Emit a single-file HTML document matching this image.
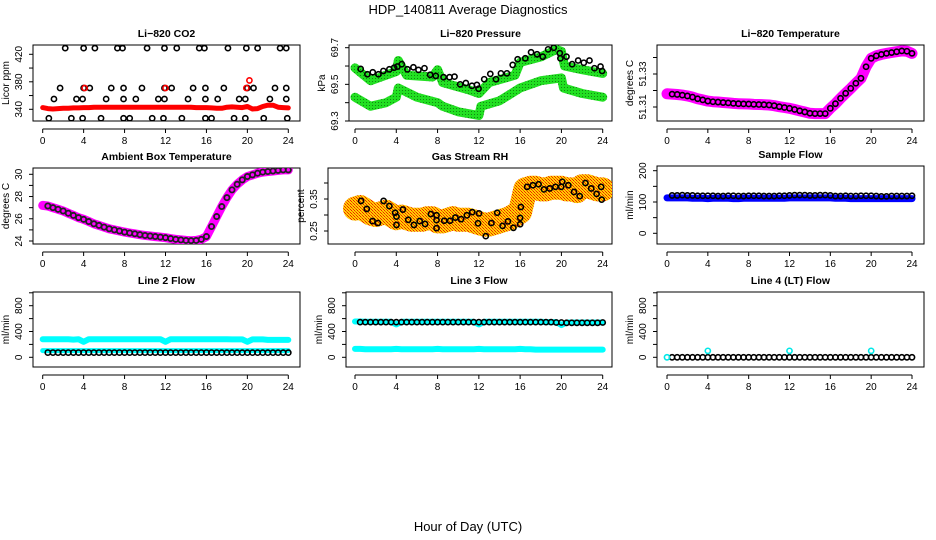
<!DOCTYPE html>
<html><head><meta charset="utf-8">
<style>
html,body{margin:0;padding:0;background:#fff;}
svg{display:block;font-family:"Liberation Sans",Helvetica,sans-serif;}
</style></head>
<body>
<svg id="chart" width="936" height="540" viewBox="0 0 936 540" xmlns="http://www.w3.org/2000/svg">
<defs>
<pattern id="rhpat" width="3" height="3" patternUnits="userSpaceOnUse">
<rect width="3" height="3" fill="#ffd000"/><rect width="1" height="1" fill="#f02000"/><rect x="1" y="1" width="1" height="1" fill="#f06000"/><rect x="2" y="2" width="1" height="1" fill="#f02000"/>
</pattern>
<pattern id="prpat" width="3" height="3" patternUnits="userSpaceOnUse">
<rect width="3" height="3" fill="#22e022"/><rect width="1" height="1" fill="#118811"/>
</pattern>
</defs>
<text x="468" y="14" text-anchor="middle" font-size="13">HDP_140811  Average Diagnostics</text>
<text x="468" y="531" text-anchor="middle" font-size="13">Hour of Day (UTC)</text>
</svg>
<script>
// ---- shared hours (0.5 h steps) ----
const H = [0,0.5,1,1.5,2,2.5,3,3.5,4,4.5,5,5.5,6,6.5,7,7.5,8,8.5,9,9.5,10,10.5,11,11.5,12,12.5,13,13.5,14,14.5,15,15.5,16,16.5,17,17.5,18,18.5,19,19.5,20,20.5,21,21.5,22,22.5,23,23.5,24];
const xTicks = [0,4,8,12,16,20,24];

// ---- CO2 ----
const co2Red = [342.5,341,340.5,341,341.5,341.5,342,342,342.5,342.5,343,343,343,343,343,343,343,343,343,343,343,343,343,343,343,343,343,343,343,343,342.5,342.5,342.5,342,341.5,341.5,343,343.5,343,342.5,344,340.5,341,344,346,346,343,342.5,342];
const co2T = [2.2,4.0,5.1,7.3,7.8,10.2,11.9,13.1,15.3,15.8,18.1,19.9,21.0,23.2,23.8,
 1.7,4.0,4.6,6.7,7.9,9.7,11.9,12.6,14.7,15.9,17.7,20.0,20.6,22.7,23.8,
 1.1,3.3,3.9,6.2,7.9,9.1,11.3,11.9,14.2,15.9,17.1,19.2,19.8,22.2,23.8,
 0.6,2.8,3.9,5.7,7.9,8.5,10.7,11.8,13.6,15.9,16.5,18.7,19.8,21.6,23.9];
const co2V = [429,429,429,429,429,429,429,429,429,429,429,429,429,429,429,
 371,371,371,371,371,371,371,371,371,371,371,371,371,371,371,
 355,355,355,355,355,355,355,355,355,355,355,355,355,355,355,
 327,327,327,327,327,327,327,327,327,327,327,327,327,327,327];
const co2RedPtT = [4.1,12.0,19.9,20.2];
const co2RedPtV = [371,371,371,382];

// ---- Pressure ----
const prUpT = [0,1.5,4,4.2,5,7.5,8,8.5,11,12,13,15.5,16,18,19.5,20,20.3,22,24];
const prUpV = [69.59,69.52,69.57,69.63,69.55,69.54,69.58,69.51,69.47,69.45,69.51,69.55,69.62,69.65,69.69,69.68,69.60,69.58,69.56];
const prLoT = [0,1.5,3,4,4.2,6,8,8.5,10,12,12.2,14,16,18,20,20.2,22,24];
const prLoV = [69.43,69.38,69.40,69.43,69.48,69.43,69.40,69.38,69.35,69.33,69.38,69.41,69.48,69.52,69.535,69.48,69.45,69.43];
const prBlkT = [0.55,1.2,1.72,2.27,2.75,3.33,3.79,4.11,4.53,5.08,5.66,6.15,6.73,7.28,7.83,8.58,9.16,9.64,10.19,10.74,11.33,11.81,11.97,12.52,13.11,13.66,14.14,14.72,15.28,15.76,16.5,17.06,17.64,18.19,18.71,19.26,19.84,19.9,20.49,21.04,21.62,22.17,22.72,23.2,23.79,23.95];
const prBlkV = [69.584,69.555,69.566,69.555,69.573,69.582,69.591,69.597,69.61,69.582,69.593,69.579,69.588,69.552,69.546,69.539,69.539,69.542,69.50,69.507,69.492,69.497,69.476,69.528,69.557,69.528,69.56,69.56,69.606,69.637,69.642,69.675,69.664,69.651,69.691,69.70,69.67,69.642,69.651,69.61,69.63,69.618,69.63,69.588,69.597,69.573];

// ---- Li-820 Temperature ----
const tempC = [51.318,51.3178,51.3176,51.3172,51.3167,51.316,51.315,51.3143,51.3136,51.3132,51.313,51.3127,51.3125,51.3122,51.312,51.3119,51.3118,51.3116,51.3115,51.3114,51.3112,51.3108,51.3102,51.3097,51.3092,51.3085,51.3077,51.307,51.3062,51.306,51.306,51.306,51.3092,51.312,51.3153,51.3183,51.3213,51.3244,51.3274,51.3344,51.3395,51.341,51.3419,51.3425,51.343,51.3435,51.344,51.3438,51.3425];

// ---- Ambient ----
const ambC = [27.2,27.15,27.0,26.85,26.7,26.5,26.3,26.1,25.95,25.75,25.55,25.4,25.25,25.1,25.0,24.9,24.8,24.72,24.65,24.57,24.5,24.45,24.4,24.35,24.3,24.22,24.15,24.1,24.05,24.03,24.05,24.15,24.4,25.3,26.2,27.1,27.9,28.6,29.1,29.5,29.8,29.95,30.1,30.2,30.25,30.3,30.35,30.4,30.4];

// ---- RH ----
const rhBand = [0.32,0.325,0.315,0.305,0.3,0.305,0.31,0.3,0.29,0.295,0.29,0.285,0.285,0.285,0.29,0.29,0.28,0.28,0.285,0.29,0.285,0.285,0.285,0.28,0.275,0.27,0.27,0.275,0.28,0.285,0.29,0.3,0.31,0.38,0.385,0.385,0.38,0.38,0.385,0.385,0.385,0.38,0.38,0.375,0.39,0.39,0.385,0.38,0.38];
const rhT = [0.59,1.14,1.7,2.22,2.77,3.33,3.89,4.02,4.02,4.64,5.16,5.71,6.27,6.79,7.35,7.9,7.9,7.9,8.65,9.21,9.73,10.28,10.84,11.36,11.92,12.02,12.67,13.22,13.78,14.3,14.82,15.35,16.0,16.0,16.07,16.68,17.24,17.79,18.31,18.87,19.42,19.98,20.08,20.67,21.22,21.77,22.33,22.89,23.41,23.85,23.9];
const rhV = [0.344,0.319,0.281,0.275,0.344,0.328,0.307,0.295,0.269,0.317,0.285,0.269,0.281,0.272,0.303,0.299,0.284,0.259,0.282,0.282,0.292,0.287,0.299,0.309,0.274,0.305,0.234,0.275,0.307,0.266,0.28,0.26,0.271,0.291,0.325,0.388,0.393,0.396,0.38,0.383,0.388,0.388,0.404,0.393,0.372,0.359,0.4,0.383,0.366,0.388,0.348];

// ---- Sample Flow ----
const sfBlack = [121,121,121,122,121,121,120,120,120,120,119,119,120,120,119,119,120,120,120,119,119,119,120,120,121,122,122,122,121,121,122,122,121,119,119,120,119,119,120,120,120,119,118,118,119,119,119,119,120];
const sfBlue = [113,113,113,113,113,112,112,112,111,112,112,112,112,111,111,112,112,112,112,112,112,112,112,112,113,113,113,113,113,113,113,113,113,112,112,112,111,111,111,111,111,111,111,111,111,111,111,111,111];

// ---- Line flows ----
const l2CyanHi = [280,280,280,280,280,280,275,280,240,280,280,280,280,280,280,280,280,280,280,280,280,280,280,280,240,280,280,280,280,280,280,280,280,280,280,280,280,278,278,278,240,278,278,278,270,270,270,270,270];
const l2CyanLo = [104,104,104,104,104,104,104,104,104,104,104,104,104,104,104,104,104,104,104,104,104,104,104,104,104,104,104,104,104,104,104,104,104,104,104,104,104,104,104,104,104,104,104,104,104,104,104,104,104];
const l2Black = [73,73,73,73,73,73,73,73,73,73,73,73,73,73,73,73,73,73,73,73,73,73,73,73,73,73,73,73,73,73,73,73,73,73,73,72,72,72,72,72,72,72,72,72,72,72,72,72,72];
const l3CyanHi = [555,555,550,550,550,550,550,550,510,550,550,550,550,550,550,550,550,550,550,550,550,550,550,550,510,550,550,550,550,550,550,550,550,550,550,550,550,545,545,545,500,540,540,540,540,540,540,540,540];
const l3CyanLo = [130,130,125,125,125,125,125,125,130,125,125,125,125,125,125,125,130,125,125,125,125,125,125,125,130,125,125,125,125,125,125,125,130,125,125,120,120,120,120,120,120,120,120,120,120,120,120,120,120];
const l3Black = [545,545,545,545,545,545,545,545,545,545,545,545,545,545,545,545,545,545,545,545,545,545,545,545,545,545,545,545,545,545,545,545,545,545,545,545,545,545,545,540,540,535,535,535,535,535,535,535,540];
const l4Cyan = [0,0,0,0,0,0,0,0,100,0,0,0,0,0,0,0,0,0,0,0,0,0,0,0,100,0,0,0,0,0,0,0,0,0,0,0,0,0,0,0,100,0,0,0,0,0,0,0,0];
const l4Black = [0,0,0,0,0,0,0,0,0,0,0,0,0,0,0,0,0,0,0,0,0,0,0,0,0,0,0,0,0,0,0,0,0,0,0,0,0,0,0,0,0,0,0,0,0,0,0,0,0];

const NS = "http://www.w3.org/2000/svg";
const svg = document.getElementById('chart');
function mk(tag, attrs, parent){ const e=document.createElementNS(NS,tag); for(const k in attrs) e.setAttribute(k,attrs[k]); (parent||svg).appendChild(e); return e; }

function makePanel(p){
  const g = mk('g',{});
  
  
  const xs = t => p.px0 + (t/24)*(p.px24 - p.px0);
  const ys = v => p.y1p + (v - p.v1)/(p.v2 - p.v1)*(p.y2p - p.y1p);
  p.xs = xs; p.ys = ys; p.g = g;
  const box = mk('rect',{x:p.bx0,y:p.by0,width:p.bx1-p.bx0,height:p.by1-p.by0,fill:'none',stroke:'#000','stroke-width':1},g);
  
  
  const tt = mk('text',{x:(p.bx0+p.bx1)/2,y:p.by0-8,'text-anchor':'middle','font-size':10.5,'font-weight':'bold'},g);
  tt.textContent = p.title;
  
  
  const xa = mk('g',{},g);
  
  
  const yAx = p.by1 + 8;
  mk('line',{x1:xs(0),x2:xs(24),y1:yAx,y2:yAx,stroke:'#000'},xa);
  xTicks.forEach(t=>{
    mk('line',{x1:xs(t),x2:xs(t),y1:yAx,y2:yAx+4,stroke:'#000'},xa);
    const l = mk('text',{x:xs(t),y:yAx+15,'text-anchor':'middle','font-size':10},xa);
    l.textContent = t;
    
    
  });
  const ya = mk('g',{},g);
  
  
  const xAx = p.bx0;
  const yt = p.yTicks;
  mk('line',{x1:xAx,x2:xAx,y1:ys(yt[0]),y2:ys(yt[yt.length-1]),stroke:'#000'},ya);
  yt.forEach(v=>{ mk('line',{x1:xAx-4,x2:xAx,y1:ys(v),y2:ys(v),stroke:'#000'},ya); });
  p.yLabels.forEach(v=>{
    const lx = xAx-11, ly = ys(v);
    const l = mk('text',{x:lx,y:ly,'text-anchor':'middle','font-size':10,transform:`rotate(-90 ${lx} ${ly})`},ya);
    l.textContent = p.fmt ? p.fmt(v) : v;
    
    
  });
  const tx = xAx-24, ty=(p.by0+p.by1)/2;
  const yl = mk('text',{x:tx,y:ty,'text-anchor':'middle','font-size':10,transform:`rotate(-90 ${tx} ${ty})`},ya);
  yl.textContent = p.ylab;
  
  
  const cid = 'clip-'+p.name;
  const cp = mk('clipPath',{id:cid},g);
  mk('rect',{x:p.bx0,y:p.by0,width:p.bx1-p.bx0,height:p.by1-p.by0},cp);
  p.plot = mk('g',{'clip-path':`url(#${cid})`},g);
  return p;
}
function band(p, ts, vs, color, w, name){
  const d = ts.map((t,i)=>(i?'L':'M')+p.xs(t).toFixed(1)+' '+p.ys(vs[i]).toFixed(1)).join(' ');
  const e = mk('path',{d:d,fill:'none',stroke:color,'stroke-width':w,'stroke-linejoin':'round','stroke-linecap':'round'},p.plot);
  
  
}
function pts(p, ts, vs, color, name, r, sw, tmin, keep){
  const g = mk('g',{},p.plot);
  
  
  ts.forEach((t,i)=>{
    if(tmin!==undefined && t<tmin) return;
    if(keep && !keep(i)) return;
    const c = mk('circle',{cx:p.xs(t),cy:p.ys(vs[i]),r:r||2.6,fill:'none',stroke:color,'stroke-width':sw||1.6},g);
    
    
  });
}

const C1={bx0:33,bx1:300,px0:42.7,px24:288.3};
const C2={bx0:349,bx1:612,px0:355,px24:602.7};
const C3={bx0:657,bx1:924,px0:667,px24:912};

// Row 1
const pCO2 = makePanel(Object.assign({name:'co2-panel',title:'Li−820 CO2',ylab:'Licor ppm',by0:45,by1:121,v1:340,y1p:109.3,v2:420,y2p:54.3,yTicks:[340,360,380,400,420],yLabels:[340,380,420]},C1));
band(pCO2,H,co2Red,'#ff0000',5,'co2-red-band');
pts(pCO2,co2T,co2V,'#000','co2-black');
pts(pCO2,co2RedPtT,co2RedPtV,'#ff0000','co2-red');

const pPr = makePanel(Object.assign({name:'pressure-panel',title:'Li−820 Pressure',ylab:'kPa',by0:45,by1:121,v1:69.3,y1p:121,v2:69.7,y2p:47.7,yTicks:[69.3,69.4,69.5,69.6,69.7],yLabels:[69.3,69.5,69.7],fmt:v=>v.toFixed(1)},C2));
band(pPr,prUpT,prUpV,'url(#prpat)',9,'pressure-upper-band');
band(pPr,prLoT,prLoV,'url(#prpat)',9,'pressure-lower-band');
pts(pPr,prBlkT,prBlkV,'#000','pressure-black');

const pTc = makePanel(Object.assign({name:'temperature-panel',title:'Li−820 Temperature',ylab:'degrees C',by0:45,by1:121,v1:51.31,y1p:107,v2:51.33,y2p:74,yTicks:[51.31,51.32,51.33,51.34],yLabels:[51.31,51.33],fmt:v=>v.toFixed(2)},C3));
band(pTc,H,tempC,'#ff00ff',11,'temperature-band');
pts(pTc,H,tempC,'#000','temperature-black',2.6,1.6,0.5);

// Row 2
const pAmb = makePanel(Object.assign({name:'ambient-panel',title:'Ambient Box Temperature',ylab:'degrees C',by0:168,by1:244,v1:24,y1p:241,v2:30,y2p:174.3,yTicks:[24,25,26,27,28,29,30],yLabels:[24,26,28,30]},C1));
band(pAmb,H,ambC,'#ff00ff',9,'ambient-band');
pts(pAmb,H,ambC,'#222','ambient-black',2.6,1.8,0.5);

const pRH = makePanel(Object.assign({name:'rh-panel',title:'Gas Stream RH',ylab:'percent',by0:168,by1:244,v1:0.25,y1p:231,v2:0.35,y2p:199,yTicks:[0.25,0.30,0.35,0.40],yLabels:[0.25,0.35],fmt:v=>v.toFixed(2)},{bx0:328,bx1:612,px0:355,px24:602.7}));
band(pRH,H,rhBand,'url(#rhpat)',24,'rh-band');
pts(pRH,rhT,rhV,'#000','rh-black');

const pSF = makePanel(Object.assign({name:'sample-flow-panel',title:'Sample Flow',ylab:'ml/min',by0:166,by1:244,v1:0,y1p:233.3,v2:200,y2p:170.7,yTicks:[0,50,100,150,200],yLabels:[0,100,200]},C3));
band(pSF,H,sfBlue,'#0000ff',7,'sample-flow-blue-band');
pts(pSF,H,sfBlack,'#000','sample-flow-black',2.6,1.6,0.5);

// Row 3
const flowY = {by0:292,by1:367,v1:0,y1p:357.3,v2:800,y2p:305.7,yTicks:[0,200,400,600,800,1000],yLabels:[0,400,800]};
const pL2 = makePanel(Object.assign({name:'line2-flow-panel',title:'Line 2 Flow',ylab:'ml/min'},flowY,C1));
band(pL2,H,l2CyanHi,'#00ffff',6,'line2-cyan-upper');
band(pL2,H,l2CyanLo,'#00ffff',5,'line2-cyan-lower');
pts(pL2,H,l2Black,'#000','line2-black',2.6,1.6,0.5);

const pL3 = makePanel(Object.assign({name:'line3-flow-panel',title:'Line 3 Flow',ylab:'ml/min'},flowY,{bx0:346,bx1:612,px0:355,px24:602.7}));
band(pL3,H,l3CyanHi,'#00ffff',6,'line3-cyan-upper');
band(pL3,H,l3CyanLo,'#00ffff',6,'line3-cyan-lower');
pts(pL3,H,l3Black,'#000','line3-black',2.6,1.6,0.5);

const pL4 = makePanel(Object.assign({name:'line4-flow-panel',title:'Line 4 (LT) Flow',ylab:'ml/min'},flowY,C3));
pts(pL4,H,l4Black,'#000','line4-black',2.6,1.6,0.5);
pts(pL4,H,l4Cyan,'#00e8e8','line4-cyan',2.6,1.6,undefined,i=>H[i]<0.5||l4Cyan[i]!==l4Black[i]);
</script>
</body></html>
